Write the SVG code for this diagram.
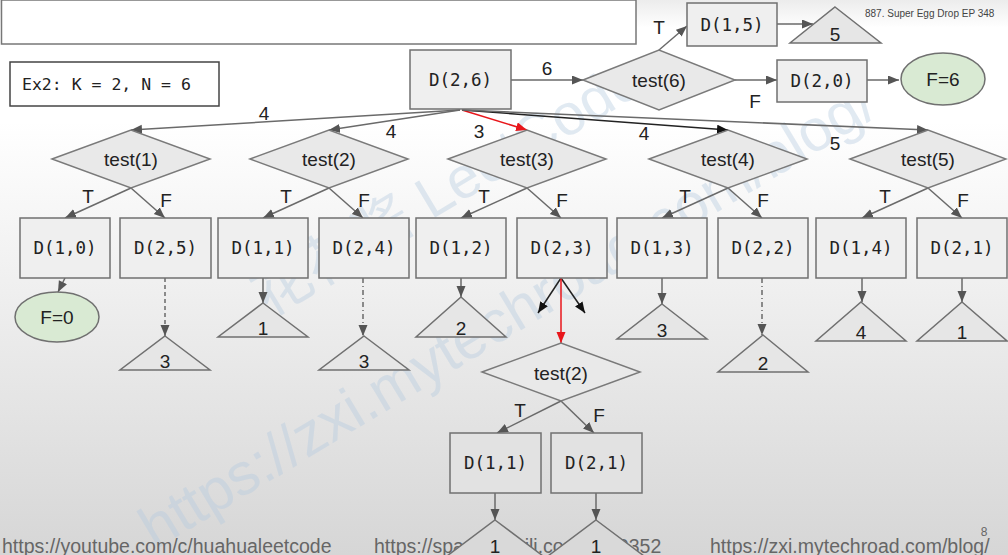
<svg xmlns="http://www.w3.org/2000/svg" width="1008" height="555" viewBox="0 0 1008 555">
<defs>
<linearGradient id="bg" x1="0" y1="0" x2="0" y2="1">
<stop offset="0" stop-color="#ececec"/>
<stop offset="0.05" stop-color="#ffffff"/>
<stop offset="0.22" stop-color="#ffffff"/>
<stop offset="1" stop-color="#d6d6d6"/>
</linearGradient>
<marker id="ah" markerUnits="userSpaceOnUse" markerWidth="12" markerHeight="10" refX="11" refY="4.5" orient="auto">
<path d="M0,0 L11,4.5 L0,9 z" fill="#555"/>
</marker>
<marker id="ahk" markerUnits="userSpaceOnUse" markerWidth="12" markerHeight="10" refX="11" refY="4.5" orient="auto">
<path d="M0,0 L11,4.5 L0,9 z" fill="#111"/>
</marker>
<marker id="ahr" markerUnits="userSpaceOnUse" markerWidth="12" markerHeight="10" refX="11" refY="4.5" orient="auto">
<path d="M0,0 L11,4.5 L0,9 z" fill="#e8161b"/>
</marker>
<style>
.box{fill:#efefef;stroke:#707070;stroke-width:1.5}
.box2{fill:#e2e2e2;stroke:#707070;stroke-width:1.5}
.dia{fill:#e9e9e9;stroke:#7a7a7a;stroke-width:1.5}
.tri{fill:#e6e6e6;stroke:#707070;stroke-width:1.5}
.ell{fill:#d9ead3;stroke:#707070;stroke-width:1.5}
.mono{font-family:"DejaVu Sans Mono","Liberation Mono",monospace;font-size:17.5px;fill:#222;text-anchor:middle}
.sans{font-family:"Liberation Sans",Arial,sans-serif;font-size:19px;fill:#222;text-anchor:middle}
.lbl{font-family:"Liberation Sans",Arial,sans-serif;font-size:19px;fill:#222;text-anchor:middle}
.ln{stroke:#6a6a6a;stroke-width:1.5;fill:none;marker-end:url(#ah)}
.lk{stroke:#222;stroke-width:1.5;fill:none;marker-end:url(#ahk)}
.lr{stroke:#e8161b;stroke-width:1.5;fill:none;marker-end:url(#ahr)}
.dash{stroke-dasharray:4,3}
.dd{stroke-dasharray:5,3,1,3}
.foot{font-family:"Liberation Sans",Arial,sans-serif;font-size:19.5px;fill:#666}
.wm{font-family:"Liberation Sans","Noto Sans CJK SC",sans-serif;fill:#b5cbe0;opacity:0.4}
</style>
</defs>
<rect x="0" y="0" width="1008" height="555" fill="url(#bg)"/>

<!-- watermark -->
<text class="wm" font-size="58" transform="translate(268,318) rotate(-31)">花花酱 LeetCode</text>
<text class="wm" font-size="59" transform="translate(155,550) rotate(-31)">https://zxi.mytechroad.com/blog/</text>

<!-- footer -->
<g id="footer">
<text class="foot" x="2" y="553">https://youtube.com/c/huahualeetcode</text>
<text class="foot" x="374" y="553">https://space.bilibili.com/9880352</text>
<text class="foot" x="710" y="553">https://zxi.mytechroad.com/blog/</text>
<text x="984" y="536" font-family="Liberation Sans,Arial,sans-serif" font-size="12" fill="#666" text-anchor="middle">8</text>
<text x="865" y="17" font-family="Liberation Sans,Arial,sans-serif" font-size="10" fill="#444">887. Super Egg Drop EP 348</text>
</g>

<g id="titlebox"><rect x="1.5" y="0" width="634.5" height="44" fill="#fff" stroke="#777" stroke-width="1.5"/></g>
<g id="ex2"><rect x="10" y="62" width="209" height="44" fill="#fff" stroke="#444" stroke-width="1.5"/>
<text x="22" y="90" font-family="DejaVu Sans Mono,Liberation Mono,monospace" font-size="16.5" fill="#222">Ex2: K = 2, N = 6</text></g>

<!-- connectors -->
<g id="connectors">
<line class="ln" x1="511" y1="80" x2="583" y2="80"/>
<line class="ln" x1="659" y1="50" x2="687" y2="26"/>
<line class="ln" x1="777" y1="24" x2="813" y2="24"/>
<line class="ln" x1="735" y1="80" x2="777" y2="80"/>
<line class="ln" x1="867" y1="80" x2="899" y2="80"/>
<line class="ln" x1="460" y1="110" x2="131" y2="130"/>
<line class="ln" x1="460" y1="110" x2="329" y2="130"/>
<line class="lr" x1="462" y1="110" x2="527" y2="130"/>
<line class="lk" x1="462" y1="110" x2="728" y2="130"/>
<line class="ln" x1="462" y1="110" x2="928" y2="130"/>
<!-- diamond branches -->
<line class="ln" x1="131" y1="188" x2="65" y2="218"/><line class="ln" x1="131" y1="188" x2="165" y2="218"/>
<line class="ln" x1="329" y1="188" x2="263" y2="218"/><line class="ln" x1="329" y1="188" x2="363" y2="218"/>
<line class="ln" x1="527" y1="188" x2="461" y2="218"/><line class="ln" x1="527" y1="188" x2="561" y2="218"/>
<line class="ln" x1="728" y1="188" x2="662" y2="218"/><line class="ln" x1="728" y1="188" x2="762" y2="218"/>
<line class="ln" x1="928" y1="188" x2="862" y2="218"/><line class="ln" x1="928" y1="188" x2="962" y2="218"/>
<!-- level 3 -->
<line class="ln" x1="65" y1="278" x2="58" y2="292"/>
<line class="ln dash" x1="165" y1="278" x2="165" y2="336"/>
<line class="ln" x1="263" y1="278" x2="263" y2="303"/>
<line class="ln dd" x1="363" y1="278" x2="363" y2="336"/>
<line class="ln" x1="461" y1="278" x2="461" y2="297"/>
<line class="lk" x1="561" y1="278" x2="538" y2="313"/>
<line class="lk" x1="561" y1="278" x2="585" y2="313"/>
<line class="lr" x1="561" y1="278" x2="561" y2="343"/>
<line class="ln" x1="662" y1="278" x2="662" y2="304"/>
<line class="ln dd" x1="762" y1="278" x2="762" y2="335"/>
<line class="ln" x1="862" y1="278" x2="862" y2="302"/>
<line class="ln" x1="962" y1="278" x2="962" y2="302"/>
<!-- lower -->
<line class="ln" x1="561" y1="401" x2="497" y2="433"/>
<line class="ln" x1="561" y1="401" x2="594" y2="433"/>
<line class="ln" x1="495" y1="493" x2="495" y2="520"/>
<line class="ln" x1="596" y1="493" x2="596" y2="520"/>
</g>

<!-- connector labels -->
<g id="labels">
<text class="lbl" x="547" y="75">6</text>
<text class="lbl" x="659" y="34">T</text>
<text class="lbl" x="755" y="108">F</text>
<text class="lbl" x="264" y="120">4</text>
<text class="lbl" x="391" y="138">4</text>
<text class="lbl" x="479" y="138">3</text>
<text class="lbl" x="644" y="140">4</text>
<text class="lbl" x="835" y="150">5</text>
<text class="lbl" x="88" y="203">T</text><text class="lbl" x="166" y="207">F</text>
<text class="lbl" x="286" y="203">T</text><text class="lbl" x="364" y="207">F</text>
<text class="lbl" x="484" y="203">T</text><text class="lbl" x="562" y="207">F</text>
<text class="lbl" x="685" y="203">T</text><text class="lbl" x="763" y="207">F</text>
<text class="lbl" x="885" y="203">T</text><text class="lbl" x="963" y="207">F</text>
<text class="lbl" x="520" y="417">T</text>
<text class="lbl" x="599" y="422">F</text>
</g>

<!-- top nodes -->
<g id="D26"><rect class="box" x="410" y="50" width="101" height="59"/><text class="mono" x="460.5" y="86">D(2,6)</text></g>
<g id="test6"><polygon class="dia" points="583,80 659,50 735,80 659,110"/><text class="sans" x="659" y="87">test(6)</text></g>
<g id="D15"><rect class="box" x="687" y="3" width="90" height="43"/><text class="mono" x="732" y="31">D(1,5)</text></g>
<g id="tri5"><polygon class="tri" points="835,7 881,43 790,43"/><text class="sans" x="835" y="41">5</text></g>
<g id="D20"><rect class="box" x="777" y="60" width="90" height="42"/><text class="mono" x="822" y="87">D(2,0)</text></g>
<g id="F6"><ellipse class="ell" cx="943" cy="79" rx="42" ry="26"/><text class="sans" x="943" y="86">F=6</text></g>

<!-- level 1 diamonds -->
<g id="test1"><polygon class="dia" points="52,159 131,130 210,159 131,188"/><text class="sans" x="131" y="166">test(1)</text></g>
<g id="test2"><polygon class="dia" points="250,159 329,130 408,159 329,188"/><text class="sans" x="329" y="166">test(2)</text></g>
<g id="test3"><polygon class="dia" points="448,159 527,130 606,159 527,188"/><text class="sans" x="527" y="166">test(3)</text></g>
<g id="test4"><polygon class="dia" points="649,159 728,130 807,159 728,188"/><text class="sans" x="728" y="166">test(4)</text></g>
<g id="test5"><polygon class="dia" points="850,159 928,130 1006,159 928,188"/><text class="sans" x="928" y="166">test(5)</text></g>

<!-- level 2 boxes -->
<g id="D10"><rect class="box" x="20" y="218" width="90" height="60"/><text class="mono" x="65" y="254">D(1,0)</text></g>
<g id="D25"><rect class="box" x="120" y="218" width="91" height="60"/><text class="mono" x="165.5" y="254">D(2,5)</text></g>
<g id="D11"><rect class="box" x="218" y="218" width="90" height="60"/><text class="mono" x="263" y="254">D(1,1)</text></g>
<g id="D24"><rect class="box" x="319" y="218" width="90" height="60"/><text class="mono" x="364" y="254">D(2,4)</text></g>
<g id="D12"><rect class="box" x="416" y="218" width="90" height="60"/><text class="mono" x="461" y="254">D(1,2)</text></g>
<g id="D23"><rect class="box" x="517" y="218" width="90" height="60"/><text class="mono" x="562" y="254">D(2,3)</text></g>
<g id="D13"><rect class="box" x="617" y="218" width="90" height="60"/><text class="mono" x="662" y="254">D(1,3)</text></g>
<g id="D22"><rect class="box" x="718" y="218" width="90" height="60"/><text class="mono" x="763" y="254">D(2,2)</text></g>
<g id="D14"><rect class="box" x="816" y="218" width="90" height="60"/><text class="mono" x="861" y="254">D(1,4)</text></g>
<g id="D21"><rect class="box" x="917" y="218" width="90" height="60"/><text class="mono" x="962" y="254">D(2,1)</text></g>

<!-- level 3 -->
<g id="F0"><ellipse class="ell" cx="57" cy="317" rx="42" ry="25"/><text class="sans" x="57" y="324">F=0</text></g>
<g id="t3a"><polygon class="tri" points="165,336 210,370 120,370"/><text class="sans" x="165" y="368">3</text></g>
<g id="t1a"><polygon class="tri" points="263,303 308,337 218,337"/><text class="sans" x="263" y="335">1</text></g>
<g id="t3b"><polygon class="tri" points="364,336 409,370 319,370"/><text class="sans" x="364" y="368">3</text></g>
<g id="t2a"><polygon class="tri" points="461,297 506,337 416,337"/><text class="sans" x="461" y="335">2</text></g>
<g id="t3c"><polygon class="tri" points="662,304 707,339 617,339"/><text class="sans" x="662" y="337">3</text></g>
<g id="t2b"><polygon class="tri" points="763,335 808,372 718,372"/><text class="sans" x="763" y="370">2</text></g>
<g id="t4"><polygon class="tri" points="861,302 906,341 816,341"/><text class="sans" x="861" y="339">4</text></g>
<g id="t1b"><polygon class="tri" points="962,302 1007,341 917,341"/><text class="sans" x="962" y="339">1</text></g>

<!-- lower subtree -->
<g id="test2b"><polygon class="dia" points="482,372 561,343 640,372 561,401"/><text class="sans" x="561" y="380">test(2)</text></g>
<g id="D11b"><rect class="box2" x="450" y="433" width="91" height="60"/><text class="mono" x="495.5" y="469">D(1,1)</text></g>
<g id="D21b"><rect class="box2" x="551" y="433" width="91" height="60"/><text class="mono" x="596.5" y="469">D(2,1)</text></g>
<g id="t1c"><polygon class="tri" points="495,520 543,556 447,556" style="fill:#d9d9d9"/><text class="sans" x="495" y="553">1</text></g>
<g id="t1d"><polygon class="tri" points="596,520 644,556 548,556" style="fill:#d9d9d9"/><text class="sans" x="596" y="553">1</text></g>
</svg>
